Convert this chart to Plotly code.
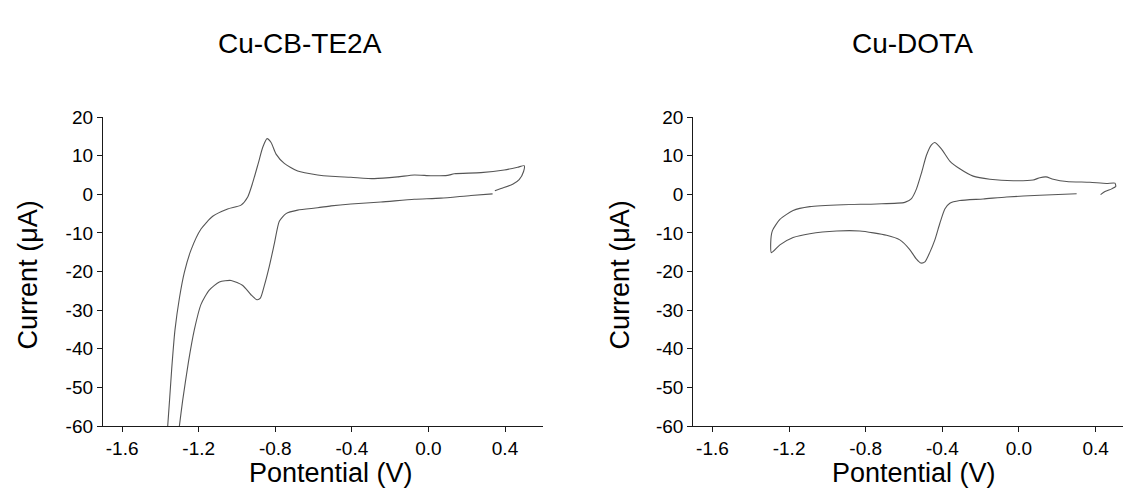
import plotly.graph_objects as go

# ---------------- data ----------------
# Cu-CB-TE2A cyclic voltammogram (Potential V, Current uA), in scan order
cb_potential = [0.335, 0.222, 0.065, -0.074, -0.248, -0.405, -0.509, -0.579, -0.683, -0.744,
                -0.779, -0.805, -0.831, -0.857, -0.878, -0.896, -0.927, -0.970, -1.031, -1.092,
                -1.145, -1.188, -1.223, -1.254, -1.284, -1.301, -1.315, -1.375, -1.362, -1.341,
                -1.324, -1.301, -1.275, -1.240, -1.188, -1.127, -1.049, -0.979, -0.944, -0.918,
                -0.889, -0.866, -0.843, -0.822, -0.796, -0.753, -0.683, -0.579, -0.509, -0.405,
                -0.283, -0.161, -0.074, 0.013, 0.100, 0.135, 0.274, 0.396, 0.466, 0.500,
                0.497, 0.474, 0.440, 0.379, 0.347]
cb_current = [0.1, -0.3, -1.0, -1.3, -2.0, -2.5, -3.0, -3.5, -4.1, -5.0,
              -7.0, -12.8, -18.6, -23.6, -26.9, -27.3, -26.0, -23.6, -22.3, -22.7,
              -24.8, -28.5, -35.1, -43.5, -53.4, -60.0, -66.0, -66.0, -60.0, -45.1,
              -35.1, -26.9, -20.2, -14.4, -9.0, -5.7, -3.8, -2.8, -0.7, 3.0,
              8.0, 12.1, 14.4, 13.4, 10.4, 8.0, 6.0, 5.0, 4.65, 4.4,
              4.05, 4.5, 5.0, 4.8, 4.9, 5.3, 5.6, 6.3, 7.0, 7.4,
              5.9, 3.8, 2.6, 1.5, 0.9]

# Cu-DOTA cyclic voltammogram
dota_potential = [0.301, 0.109, -0.065, -0.187, -0.309, -0.361, -0.387, -0.413, -0.439, -0.466,
                  -0.491, -0.512, -0.535, -0.570, -0.622, -0.691, -0.831, -0.952, -1.092, -1.179,
                  -1.248, -1.292, -1.296, -1.287, -1.248, -1.179, -1.092, -0.918, -0.744, -0.596,
                  -0.561, -0.535, -0.509, -0.483, -0.457, -0.439, -0.404, -0.361, -0.309, -0.239,
                  -0.152, -0.030, 0.074, 0.109, 0.141, 0.179, 0.249, 0.370, 0.457, 0.501,
                  0.505, 0.484, 0.449, 0.426]
dota_current = [0.15, -0.25, -0.7, -1.2, -1.6, -2.3, -3.8, -7.5, -11.8, -15.1,
                -17.5, -17.8, -16.8, -14.3, -11.8, -10.6, -9.5, -9.5, -10.2, -11.2,
                -13.1, -15.1, -12.7, -9.4, -6.5, -4.2, -3.2, -2.7, -2.5, -2.1,
                -1.1, 1.4, 5.5, 10.1, 12.8, 13.4, 11.7, 8.6, 6.6, 4.7,
                3.9, 3.5, 3.7, 4.3, 4.5, 3.9, 3.3, 3.1, 2.8, 2.9,
                2.0, 1.4, 0.7, -0.1]

x_tickvals = [-1.6, -1.2, -0.8, -0.4, 0.0, 0.4]
x_ticktext = ["-1.6", "-1.2", "-0.8", "-0.4", "0.0", "0.4"]
y_tickvals = [20, 10, 0, -10, -20, -30, -40, -50, -60]
y_ticktext = ["20", "10", "0", "-10", "-20", "-30", "-40", "-50", "-60"]

titles = ["Cu-CB-TE2A", "Cu-DOTA"]
x_title = "Pontential (V)"
y_title = "Current (\u03bcA)"

# ---------------- figure ----------------
W, H = 1123, 501
FONT = "Liberation Sans, Arial, sans-serif"
LINE = "#555555"
AX = "#1a1a1a"

fig = go.Figure()
fig.add_trace(go.Scatter(x=cb_potential, y=cb_current, mode="lines",
                         line=dict(color=LINE, width=1.1, shape="spline", smoothing=0.6),
                         xaxis="x", yaxis="y", showlegend=False, hoverinfo="skip"))
fig.add_trace(go.Scatter(x=dota_potential, y=dota_current, mode="lines",
                         line=dict(color=LINE, width=1.1, shape="spline", smoothing=0.6),
                         xaxis="x2", yaxis="y2", showlegend=False, hoverinfo="skip"))

ydom = [66.7 / H, 1 - 111.7 / H]
common_x = dict(showline=True, linecolor=AX, linewidth=1.3, ticks="outside", ticklen=5,
                tickwidth=1, tickcolor=AX, showgrid=False, zeroline=False,
                tickvals=x_tickvals, ticktext=x_ticktext,
                tickfont=dict(family=FONT, size=19, color="black"))
common_y = dict(showline=True, linecolor=AX, linewidth=1.3, ticks="outside", ticklen=5,
                tickwidth=1, tickcolor=AX, showgrid=False, zeroline=False,
                tickvals=y_tickvals, ticktext=y_ticktext, range=[-60, 20], domain=ydom,
                tickfont=dict(family=FONT, size=19, color="black"))

fig.update_layout(
    width=W, height=H,
    margin=dict(l=0, r=0, t=0, b=0),
    paper_bgcolor="white", plot_bgcolor="white",
    xaxis=dict(common_x, domain=[103 / W, 543.3 / W], range=[-1.7, 0.6], anchor="y"),
    yaxis=dict(common_y, anchor="x"),
    xaxis2=dict(common_x, domain=[693.3 / W, 1.0], range=[-1.7, 0.543], anchor="y2"),
    yaxis2=dict(common_y, anchor="x2"),
)

ann = []
for tx, cx in zip(titles, [300, 912]):
    ann.append(dict(text=tx, x=cx / W, y=1 - 35 / H, xref="paper", yref="paper",
                    xanchor="center", yanchor="middle", showarrow=False,
                    font=dict(family=FONT, size=28, color="black")))
for cx in [331, 914]:
    ann.append(dict(text=x_title, x=cx / W, y=1 - 483 / H, xref="paper", yref="paper",
                    xanchor="center", yanchor="middle", showarrow=False,
                    font=dict(family=FONT, size=27, color="black")))
for cx in [28, 620]:
    ann.append(dict(text=y_title, x=cx / W, y=1 - 277 / H, xref="paper", yref="paper",
                    xanchor="center", yanchor="middle", showarrow=False, textangle=-90,
                    font=dict(family=FONT, size=27, color="black")))
fig.update_layout(annotations=ann)

fig.write_html("out.html")
